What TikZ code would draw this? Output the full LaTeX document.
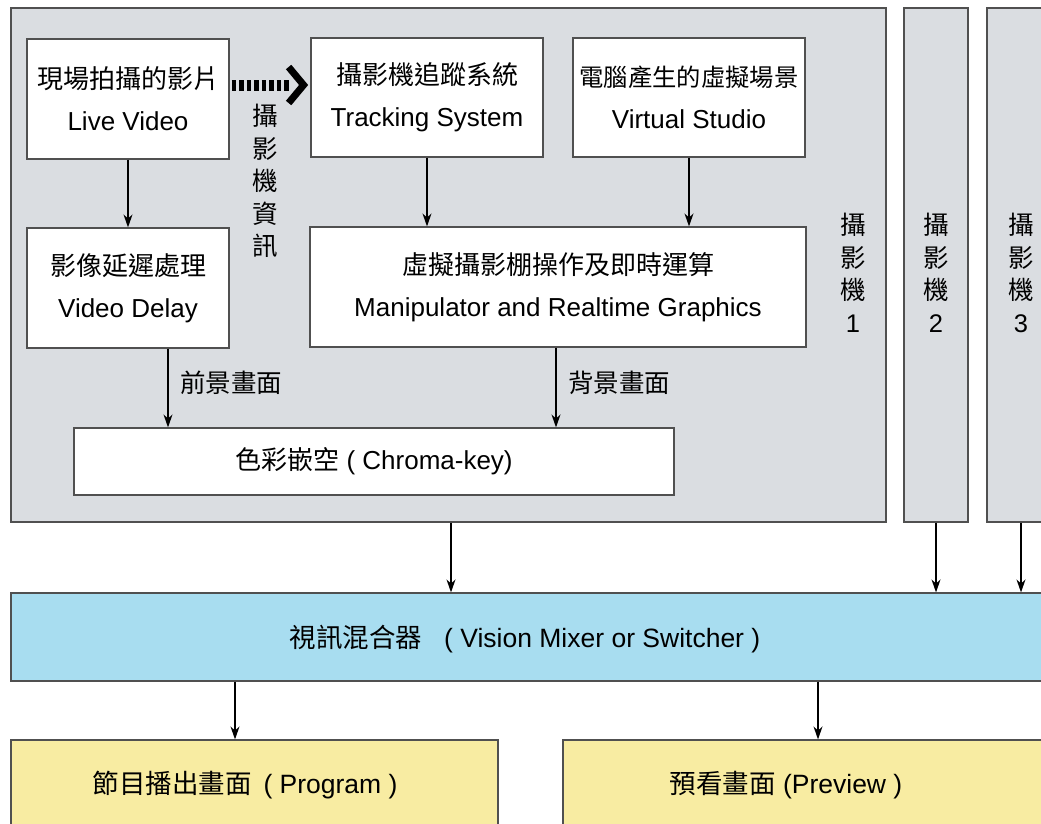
\documentclass[tikz,border=0pt]{standalone}
\usepackage{fontspec}
\setmainfont{Liberation Sans}
\newfontfamily\cjk{Noto Sans CJK TC}
\usetikzlibrary{arrows.meta}
\definecolor{panelgray}{RGB}{218,221,225}
\definecolor{mixblue}{RGB}{168,221,240}
\definecolor{outyellow}{RGB}{248,236,162}
\definecolor{edge}{RGB}{80,80,80}
\tikzset{
  box/.style={draw=edge, line width=1.2pt, fill=white, rectangle, inner sep=0pt, align=center,
    font=\fontsize{26}{42}\selectfont},
  panel/.style={draw=edge, line width=1.2pt, fill=panelgray, rectangle, inner sep=0pt},
  vlabel/.style={align=center, inner sep=0pt, font=\fontsize{25.5}{32.5}\selectfont},
  arr/.style={line width=1.3pt, -{Stealth[length=13pt,width=9pt]}},
  lab/.style={anchor=west, inner sep=0pt, font=\fontsize{25.5}{30}\selectfont},
  bigtext/.style={font=\fontsize{26.5}{30}\selectfont, inner sep=0pt},
}
\begin{document}
\begin{tikzpicture}[x=1pt,y=-1pt]
\useasboundingbox (0,0) rectangle (1041,823);
% camera panels
\node[panel, minimum width=875pt, minimum height=514pt] (cam1) at (448.5,265) {};
\node[panel, minimum width=64pt, minimum height=514pt] (cam2) at (936,265) {};
\node[panel, minimum width=70pt, minimum height=514pt] (cam3) at (1022,265) {};
\node[vlabel] (c1l) at (853,273) {{\cjk 攝}\\{\cjk 影}\\{\cjk 機}\\1};
\node[vlabel] (c2l) at (936,273) {{\cjk 攝}\\{\cjk 影}\\{\cjk 機}\\2};
\node[vlabel] (c3l) at (1021,273) {{\cjk 攝}\\{\cjk 影}\\{\cjk 機}\\3};
% inner boxes
\node[box, minimum width=202pt, minimum height=120pt] (live) at (128,99) {{\cjk 現場拍攝的影片}\\Live Video};
\node[box, minimum width=232pt, minimum height=119pt] (track) at (427,97.5) {{\cjk 攝影機追蹤系統}\\Tracking System};
\node[box, minimum width=232pt, minimum height=119pt] (virt) at (689,97.5) {{\cjk\fontsize{24.3}{42}\selectfont 電腦產生的虛擬場景}\\Virtual Studio};
\node[box, minimum width=202pt, minimum height=120pt] (delay) at (128,288) {{\cjk 影像延遲處理}\\Video Delay};
\node[box, minimum width=496pt, minimum height=120pt] (manip) at (558,287) {{\cjk 虛擬攝影棚操作及即時運算}\\Manipulator and Realtime Graphics};
\node[box, minimum width=600pt, minimum height=67pt] (chroma) at (374,461.5) {{\cjk 色彩嵌空} ( Chroma-key)};
\node[vlabel] (info) at (265,181) {{\cjk 攝}\\{\cjk 影}\\{\cjk 機}\\{\cjk 資}\\{\cjk 訊}};
% dotted arrow
\coordinate (dstart) at ([yshift=14pt]live.east);
\draw[line width=11pt, dash pattern=on 4.5pt off 3pt] ([xshift=2pt]dstart) -- ([xshift=59pt]dstart);
\draw[line width=7pt, miter limit=10] ([xshift=59pt,yshift=18pt]dstart) -- ([xshift=74pt]dstart) -- ([xshift=59pt,yshift=-18pt]dstart);
% arrows inside
\draw[arr] (live.south) -- (delay.north);
\draw[arr] (track.south) -- (track.south |- manip.north);
\draw[arr] (virt.south) -- (virt.south |- manip.north);
\draw[arr] (delay.south -| 168,0) -- (chroma.north -| 168,0);
\draw[arr] (manip.south -| 556,0) -- (chroma.north -| 556,0);
\node[lab] (fg) at (180,383) {\cjk 前景畫面};
\node[lab] (bg) at (568,383) {\cjk 背景畫面};
% mixer
\node[panel, fill=mixblue, minimum width=1040pt, minimum height=88pt] (mix) at (531,637) {};
\node[bigtext] (mixt) at (525,639) {{\cjk 視訊混合器}\hspace{22pt}( Vision Mixer or Switcher )};
\draw[arr] (cam1.south -| 451,0) -- (mix.north -| 451,0);
\draw[arr] (cam2.south) -- (mix.north -| cam2.south);
\draw[arr] (cam3.south -| 1021,0) -- (mix.north -| 1021,0);
% outputs
\node[panel, fill=outyellow, minimum width=487pt, minimum height=100pt] (prog) at (254.5,790) {};
\node[panel, fill=outyellow, minimum width=500pt, minimum height=100pt] (prev) at (813,790) {};
\node[bigtext] (progt) at (245,785) {{\cjk 節目播出畫面}\hspace{12pt}( Program )};
\node[bigtext] (prevt) at (786,785) {{\cjk 預看畫面} (Preview )};
\draw[arr] (mix.south -| 235,0) -- (prog.north -| 235,0);
\draw[arr] (mix.south -| 818,0) -- (prev.north -| 818,0);
\end{tikzpicture}
\end{document}
